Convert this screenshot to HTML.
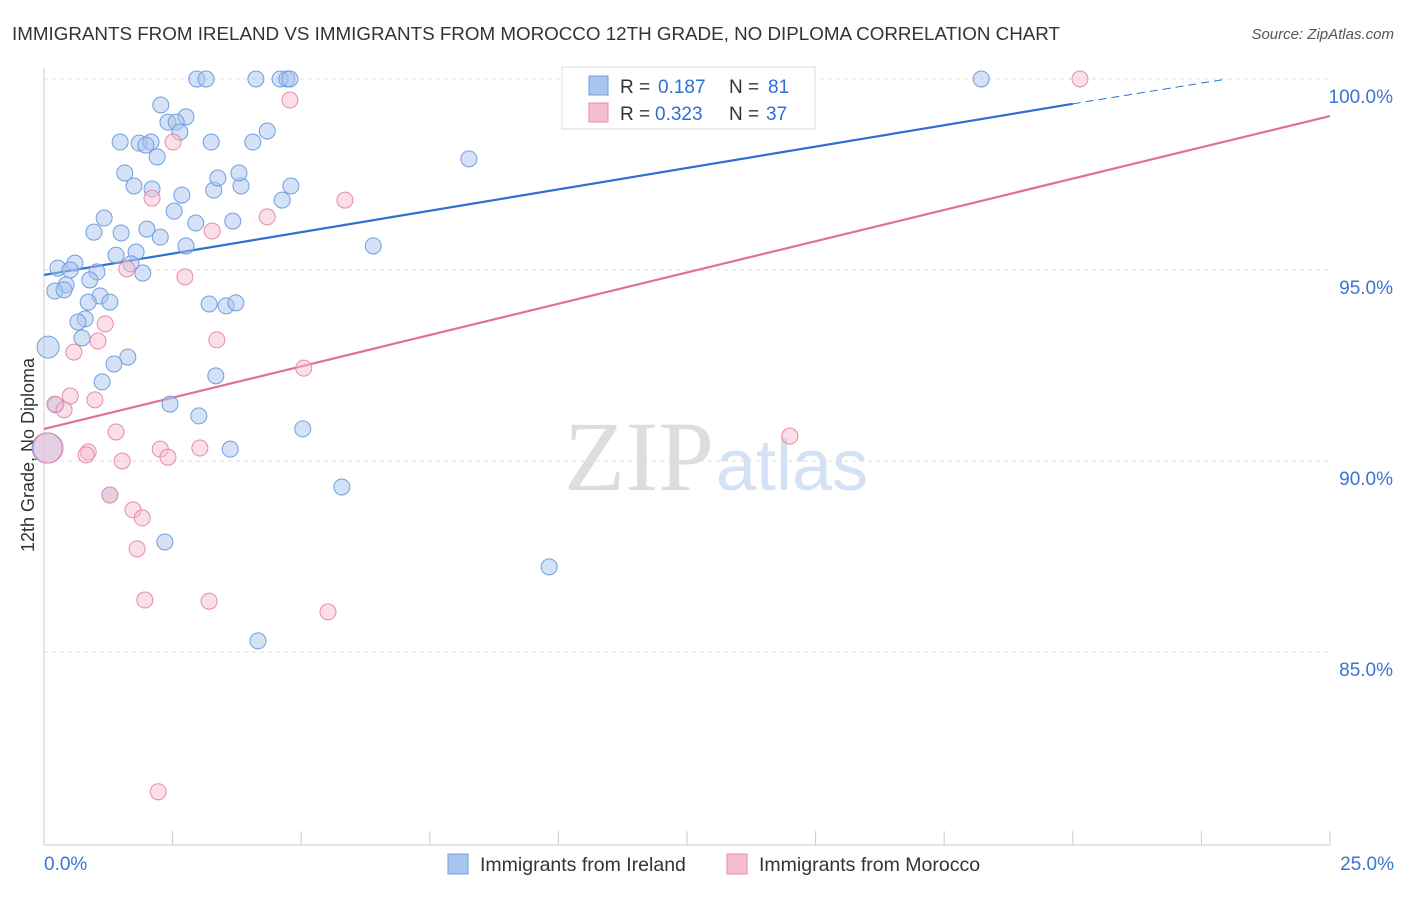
<!DOCTYPE html>
<html><head><meta charset="utf-8"><style>
body{margin:0;background:#fff;font-family:"Liberation Sans",sans-serif}
</style></head><body>
<svg id="chart" width="1406" height="892" viewBox="0 0 1406 892" xmlns="http://www.w3.org/2000/svg" font-family="Liberation Sans, sans-serif">
<text x="12" y="40" font-size="18.8" fill="#333">IMMIGRANTS FROM IRELAND VS IMMIGRANTS FROM MOROCCO 12TH GRADE, NO DIPLOMA CORRELATION CHART</text>
<text x="1394" y="39" font-size="15" fill="#555" text-anchor="end" font-style="italic">Source: ZipAtlas.com</text>
<text x="714" y="490" font-size="100" fill="#ddd" text-anchor="end" font-family="Liberation Serif, serif">ZIP</text>
<text x="716" y="490" font-size="72" fill="#d4e2f5">atlas</text>
<text transform="translate(34,455) rotate(-90)" font-size="18" fill="#333" text-anchor="middle">12th Grade, No Diploma</text>
<g id="grid"></g><g id="axes"></g><g id="lines"></g><g id="pts"></g>
<g>
<rect x="562" y="67" width="253" height="62" fill="#fff" stroke="#ddd"/>
<rect x="589" y="76" width="19" height="19" fill="#a9c4ee" stroke="#6f9fe0"/>
<rect x="589" y="103" width="19" height="19" fill="#f6bfd0" stroke="#e98aa8"/>
<text x="620" y="93" font-size="19" fill="#333">R =</text>
<text x="658" y="93" font-size="19" fill="#2f6fd0">0.187</text>
<text x="729" y="93" font-size="19" fill="#333">N =</text>
<text x="768" y="93" font-size="19" fill="#2f6fd0">81</text>
<text x="620" y="120" font-size="19" fill="#333">R =</text>
<text x="655" y="120" font-size="19" fill="#2f6fd0">0.323</text>
<text x="729" y="120" font-size="19" fill="#333">N =</text>
<text x="766" y="120" font-size="19" fill="#2f6fd0">37</text>
</g>
<g>
<rect x="448" y="854" width="20" height="20" fill="#a9c4ee" stroke="#6f9fe0"/>
<text x="480" y="871" font-size="19.5" fill="#333">Immigrants from Ireland</text>
<rect x="727" y="854" width="20" height="20" fill="#f6bfd0" stroke="#e98aa8"/>
<text x="759" y="871" font-size="19.5" fill="#333">Immigrants from Morocco</text>
</g>
</svg>
<script>
const blueX=[2.97,3.15,4.12,4.59,4.72,4.78,18.22,2.27,2.41,2.76,2.57,2.64,4.34,1.48,1.85,2.08,1.98,2.20,3.25,4.06,8.26,1.57,1.75,2.10,2.68,3.30,3.38,3.83,3.79,4.80,4.63,2.53,2.95,3.67,1.17,0.97,1.50,2.00,2.26,2.76,6.40,1.40,1.79,1.69,1.92,0.27,0.60,0.51,1.03,0.89,0.43,0.21,0.39,1.09,1.28,0.86,3.21,3.54,3.73,0.80,0.66,0.74,0.08,1.63,1.36,1.13,3.34,0.23,2.45,3.01,5.03,3.62,0.06,1.28,5.79,2.35,9.82,4.16];
const blueY=[100,100,100,100,100,100,100,99.32,98.87,99.01,98.87,98.61,98.64,98.35,98.32,98.35,98.27,97.96,98.35,98.35,97.91,97.54,97.20,97.12,96.96,97.09,97.41,97.20,97.54,97.20,96.83,96.54,96.23,96.28,96.36,95.99,95.97,96.07,95.86,95.63,95.63,95.39,95.47,95.16,94.92,95.05,95.18,95.00,94.95,94.74,94.61,94.45,94.48,94.32,94.16,94.16,94.11,94.06,94.14,93.72,93.64,93.22,92.98,92.72,92.54,92.07,92.23,91.47,91.49,91.18,90.84,90.31,90.34,89.11,89.32,87.88,87.23,85.29];
const blueBig=[72];
const blueMid=[62];
const pinkX=[20.14,4.78,2.51,2.10,5.85,4.34,3.27,1.61,2.74,1.19,1.05,3.36,0.58,5.05,0.51,0.99,0.21,0.39,1.40,14.50,2.26,3.03,0.86,0.82,2.41,1.52,1.28,1.73,1.91,1.81,1.96,3.21,5.52,2.22,0.08];
const pinkY=[100,99.45,98.35,96.88,96.83,96.39,96.02,95.03,94.82,93.59,93.14,93.17,92.85,92.43,91.70,91.60,91.49,91.34,90.76,90.65,90.31,90.34,90.24,90.16,90.10,90.00,89.11,88.72,88.51,87.70,86.36,86.33,86.05,81.34,90.34];
const pinkBig=[34];
const blueTrend=[[0,94.87],[20,99.35]];
const blueDash=[[20,99.35],[23,100]];
const pinkTrend=[[0,90.84],[25,99.03]];
const yTicks=[100,95,90,85];
const xTicks=[0,2.5,5,7.5,10,12.5,15,17.5,20,22.5,25];
const NS='http://www.w3.org/2000/svg';
const sx=v=>44+v/25*1286, sy=v=>79+(100-v)/5*191;
function mk(tag,attrs,parent){const e=document.createElementNS(NS,tag);for(const k in attrs)e.setAttribute(k,attrs[k]);document.getElementById(parent).appendChild(e);return e;}
yTicks.forEach(t=>{const g=mk('line',{x1:44,x2:1330,y1:sy(t),y2:sy(t),stroke:'#ddd','stroke-dasharray':'4,4'},'grid');


const l=mk('text',{x:1393,y:sy(t)+24,'font-size':19,fill:'#3b74d4','text-anchor':'end'},'grid');l.textContent=t.toFixed(1)+'%';

});
const ax=mk('line',{x1:44,x2:1330,y1:845,y2:845,stroke:'#ccc'},'axes');


const ay=mk('line',{x1:44,x2:44,y1:68,y2:845,stroke:'#ccc'},'axes');


xTicks.forEach(t=>{const e=mk('line',{x1:sx(t),x2:sx(t),y1:831,y2:845,stroke:'#ccc'},'axes');

});
[[0,'start',44],[25,'end',1394]].forEach(([t,a,x])=>{const e=mk('text',{x:x,y:870,'font-size':19,fill:'#3b74d4','text-anchor':a},'axes');e.textContent=t.toFixed(1)+'%';

});
function line(p,col,dash,name){const e=mk('line',{x1:sx(p[0][0]),y1:sy(p[0][1]),x2:sx(p[1][0]),y2:sy(p[1][1]),stroke:col,'stroke-width':dash?1:2.2},'lines');if(dash)e.setAttribute('stroke-dasharray','8,5');

}
line(blueTrend,'#2f6fd0',false,'ireland-trend-line');
line(blueDash,'#2f6fd0',true,'ireland-trend-extension');
line(pinkTrend,'#e0709a',false,'morocco-trend-line');
function pts(X,Y,big,mid,fill,stroke,name){X.forEach((x,i)=>{const r=big.includes(i)?15:(mid.includes(i)?11:8);const c=mk('circle',{cx:sx(x),cy:sy(Y[i]),r:r,fill:fill,'fill-opacity':0.5,stroke:stroke,'stroke-width':1},'pts');

});}
pts(blueX,blueY,blueBig,blueMid,'#a9c4ee','#6f9fe0','ireland-point');
pts(pinkX,pinkY,pinkBig,[],'#f6bfd0','#e98aa8','morocco-point');
</script>
</body></html>
